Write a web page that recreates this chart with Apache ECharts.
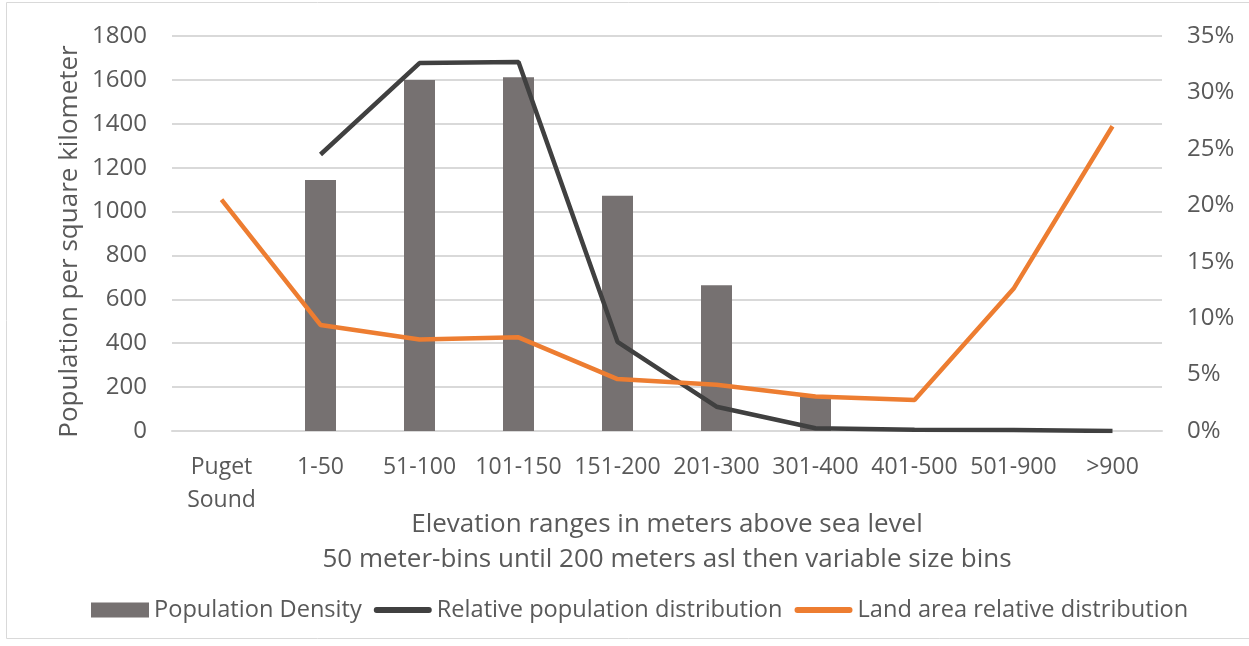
<!DOCTYPE html>
<html>
<head>
<meta charset="utf-8">
<script src="https://cdn.jsdelivr.net/npm/echarts@6/dist/echarts.min.js"></script>
<style>
html,body{margin:0;padding:0;background:#fff;}
#c{width:1249px;height:646px;}
</style>
</head>
<body>
<div id="c"></div>
<script>
var categories = ['Puget\nSound','1-50','51-100','101-150','151-200','201-300','301-400','401-500','501-900','>900'];
var populationDensity = [null, 1144, 1600, 1612, 1072, 664, 160, null, null, null];
var relativePopulation = [null, 24.5, 32.6, 32.7, 7.9, 2.15, 0.25, 0.1, 0.08, 0.0];
var landArea = [20.5, 9.4, 8.1, 8.3, 4.6, 4.1, 3.05, 2.75, 12.6, 27.0];
var leftTicks = {min: 0, max: 1800, interval: 200};
var rightTicks = {min: 0, max: 35, interval: 5};

var FONT = 'Open Sans';
var TXT = '#595959';
var LINE_ICON = 'path://M3,0H57A3,3 0 0 1 57,6H3A3,3 0 0 1 3,0Z';
var chart = echarts.init(document.getElementById('c'));
chart.setOption({
  animation: false,
  textStyle: {fontFamily: FONT, color: TXT},
  graphic: [{
    type: 'rect', shape: {x: 6.5, y: 2.5, width: 1260, height: 636},
    style: {fill: 'none', stroke: '#d9d9d9', lineWidth: 1}, silent: true
  }],
  grid: {left: 172, right: 87, top: 36, bottom: 215},
  legend: {
    left: 86, top: 593,
    itemWidth: 58, itemHeight: 15, itemGap: 12,
    textStyle: {fontFamily: FONT, fontSize: 23.6, color: TXT},
    data: [
      {name: 'Population Density', icon: 'rect'},
      {name: 'Relative population distribution', icon: LINE_ICON},
      {name: 'Land area relative distribution', icon: LINE_ICON}
    ]
  },
  xAxis: {
    type: 'category', data: categories, boundaryGap: true,
    axisLine: {lineStyle: {color: '#d9d9d9', width: 2}},
    axisTick: {show: false},
    axisLabel: {interval: 0, fontSize: 23, color: TXT, margin: 20, lineHeight: 33, fontFamily: FONT},
    name: 'Elevation ranges in meters above sea level\n50 meter-bins until 200 meters asl then variable size bins',
    nameLocation: 'middle', nameGap: 76, nameMoveOverlap: false,
    nameTextStyle: {fontSize: 26, color: TXT, lineHeight: 35, fontFamily: FONT}
  },
  yAxis: [{
    type: 'value', min: leftTicks.min, max: leftTicks.max, interval: leftTicks.interval,
    axisLine: {show: false}, axisTick: {show: false},
    splitLine: {lineStyle: {color: '#d9d9d9', width: 2}},
    axisLabel: {fontSize: 24, color: TXT, margin: 25, fontFamily: FONT, formatter: function (v) { return String(v); }},
    name: 'Population per square kilometer', nameLocation: 'middle', nameGap: 89, nameMoveOverlap: false,
    nameTextStyle: {fontSize: 26, color: TXT, fontFamily: FONT, padding: [0, 16, 0, 0]}
  }, {
    type: 'value', min: rightTicks.min, max: rightTicks.max, interval: rightTicks.interval,
    axisLine: {show: false}, axisTick: {show: false}, splitLine: {show: false},
    axisLabel: {fontSize: 24, color: TXT, margin: 25, fontFamily: FONT, formatter: '{value}%'}
  }],
  series: [{
    name: 'Population Density', type: 'bar', yAxisIndex: 0,
    data: populationDensity, barWidth: 31,
    itemStyle: {color: '#767171'}
  }, {
    name: 'Relative population distribution', type: 'line', yAxisIndex: 1,
    data: relativePopulation, showSymbol: false, symbol: 'none',
    lineStyle: {color: '#404040', width: 4.5}, itemStyle: {color: '#404040'}
  }, {
    name: 'Land area relative distribution', type: 'line', yAxisIndex: 1,
    data: landArea, showSymbol: false, symbol: 'none',
    lineStyle: {color: '#ED7D31', width: 4.5}, itemStyle: {color: '#ED7D31'}
  }]
});
</script>
</body>
</html>
